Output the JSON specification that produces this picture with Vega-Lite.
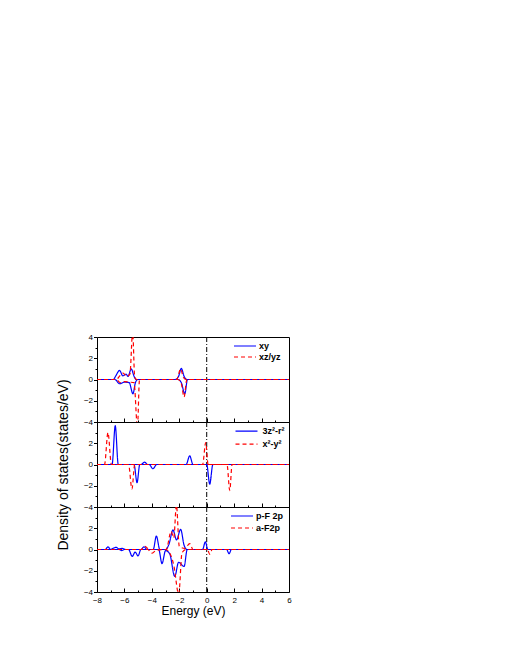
{
  "$schema": "https://vega.github.io/schema/vega-lite/v6.json",
  "padding": {"left": 55, "top": 332, "right": 5, "bottom": 5},
  "bounds": "flush",
  "spacing": 0,
  "config": {
    "font": "Liberation Sans",
    "view": {"stroke": "black", "strokeWidth": 1},
    "axis": {
      "domain": false, "grid": false, "tickColor": "black", "tickWidth": 1,
      "labelColor": "black", "labelFontSize": 8, "labelFont": "Liberation Sans",
      "titleFont": "Liberation Sans", "titleFontSize": 13, "titleFontWeight": "normal", "titleColor": "black",
      "labelFlush": false, "labelOverlap": false, "labelBound": false
    },
    "axisX": {"labelPadding": 8, "titlePadding": -1, "titleFontSize": 12},
    "axisY": {"labelPadding": 1, "titlePadding": 13, "titleFontSize": 14},
    "legend": {
      "orient": "none", "padding": 0, "labelFontSize": 9, "labelFontWeight": "bold",
      "labelFont": "Liberation Sans", "labelColor": "black",
      "symbolStrokeWidth": 1.2, "rowPadding": 0
    }
  },
  "datasets": {
    "d": [
      {"p":1,"s":"xy","d":"u","x":-8,"y":0},{"p":1,"s":"xy","d":"u","x":-6.8,"y":0},{"p":1,"s":"xy","d":"u","x":-6.65,"y":0.3},{"p":1,"s":"xy","d":"u","x":-6.35,"y":0.85},{"p":1,"s":"xy","d":"u","x":-6.12,"y":0.35},{"p":1,"s":"xy","d":"u","x":-5.88,"y":0.5},{"p":1,"s":"xy","d":"u","x":-5.74,"y":0.3},{"p":1,"s":"xy","d":"u","x":-5.5,"y":1.0},{"p":1,"s":"xy","d":"u","x":-5.3,"y":0.3},{"p":1,"s":"xy","d":"u","x":-5.14,"y":0},{"p":1,"s":"xy","d":"u","x":-2.3,"y":0},{"p":1,"s":"xy","d":"u","x":-2.05,"y":0.3},{"p":1,"s":"xy","d":"u","x":-1.85,"y":1.05},{"p":1,"s":"xy","d":"u","x":-1.65,"y":0.3},{"p":1,"s":"xy","d":"u","x":-1.45,"y":0},{"p":1,"s":"xy","d":"u","x":6,"y":0},
      {"p":1,"s":"xy","d":"d","x":-8,"y":0},{"p":1,"s":"xy","d":"d","x":-6.7,"y":0},{"p":1,"s":"xy","d":"d","x":-6.35,"y":-0.4},{"p":1,"s":"xy","d":"d","x":-6.0,"y":-0.25},{"p":1,"s":"xy","d":"d","x":-5.65,"y":-0.3},{"p":1,"s":"xy","d":"d","x":-5.38,"y":-1.35},{"p":1,"s":"xy","d":"d","x":-5.2,"y":-0.3},{"p":1,"s":"xy","d":"d","x":-5.03,"y":0},{"p":1,"s":"xy","d":"d","x":-2.1,"y":0},{"p":1,"s":"xy","d":"d","x":-1.85,"y":-0.3},{"p":1,"s":"xy","d":"d","x":-1.6,"y":-1.35},{"p":1,"s":"xy","d":"d","x":-1.4,"y":0},{"p":1,"s":"xy","d":"d","x":6,"y":0},
      {"p":1,"s":"xz/yz","d":"u","x":-8,"y":0},{"p":1,"s":"xz/yz","d":"u","x":-6.6,"y":0},{"p":1,"s":"xz/yz","d":"u","x":-6.3,"y":0.4},{"p":1,"s":"xz/yz","d":"u","x":-6.1,"y":0.6},{"p":1,"s":"xz/yz","d":"u","x":-5.85,"y":0.3},{"p":1,"s":"xz/yz","d":"u","x":-5.6,"y":0.5},{"p":1,"s":"xz/yz","d":"u","x":-5.4,"y":4.5},{"p":1,"s":"xz/yz","d":"u","x":-5.25,"y":0.2},{"p":1,"s":"xz/yz","d":"u","x":-5.1,"y":0},{"p":1,"s":"xz/yz","d":"u","x":-2.2,"y":0},{"p":1,"s":"xz/yz","d":"u","x":-1.9,"y":1.0},{"p":1,"s":"xz/yz","d":"u","x":-1.7,"y":0.2},{"p":1,"s":"xz/yz","d":"u","x":-1.5,"y":0},{"p":1,"s":"xz/yz","d":"u","x":6,"y":0},
      {"p":1,"s":"xz/yz","d":"d","x":-8,"y":0},{"p":1,"s":"xz/yz","d":"d","x":-6.6,"y":0},{"p":1,"s":"xz/yz","d":"d","x":-6.3,"y":-0.3},{"p":1,"s":"xz/yz","d":"d","x":-6.0,"y":-0.2},{"p":1,"s":"xz/yz","d":"d","x":-5.6,"y":-0.25},{"p":1,"s":"xz/yz","d":"d","x":-5.3,"y":-0.3},{"p":1,"s":"xz/yz","d":"d","x":-5.05,"y":-4.5},{"p":1,"s":"xz/yz","d":"d","x":-4.9,"y":0},{"p":1,"s":"xz/yz","d":"d","x":-2.1,"y":0},{"p":1,"s":"xz/yz","d":"d","x":-1.85,"y":-0.4},{"p":1,"s":"xz/yz","d":"d","x":-1.65,"y":-1.65},{"p":1,"s":"xz/yz","d":"d","x":-1.45,"y":0},{"p":1,"s":"xz/yz","d":"d","x":6,"y":0},

      {"p":2,"s":"3z²-r²","d":"u","x":-8,"y":0},{"p":2,"s":"3z²-r²","d":"u","x":-6.9,"y":0},{"p":2,"s":"3z²-r²","d":"u","x":-6.67,"y":3.65},{"p":2,"s":"3z²-r²","d":"u","x":-6.45,"y":0},{"p":2,"s":"3z²-r²","d":"u","x":-4.8,"y":0},{"p":2,"s":"3z²-r²","d":"u","x":-4.53,"y":0.22},{"p":2,"s":"3z²-r²","d":"u","x":-4.3,"y":0},{"p":2,"s":"3z²-r²","d":"u","x":-1.5,"y":0},{"p":2,"s":"3z²-r²","d":"u","x":-1.24,"y":0.82},{"p":2,"s":"3z²-r²","d":"u","x":-1.0,"y":0},{"p":2,"s":"3z²-r²","d":"u","x":6,"y":0},
      {"p":2,"s":"3z²-r²","d":"d","x":-8,"y":0},{"p":2,"s":"3z²-r²","d":"d","x":-5.3,"y":0},{"p":2,"s":"3z²-r²","d":"d","x":-5.08,"y":-1.7},{"p":2,"s":"3z²-r²","d":"d","x":-4.88,"y":0},{"p":2,"s":"3z²-r²","d":"d","x":-4.2,"y":0},{"p":2,"s":"3z²-r²","d":"d","x":-3.92,"y":-0.4},{"p":2,"s":"3z²-r²","d":"d","x":-3.65,"y":0},{"p":2,"s":"3z²-r²","d":"d","x":0.0,"y":0},{"p":2,"s":"3z²-r²","d":"d","x":0.22,"y":-1.85},{"p":2,"s":"3z²-r²","d":"d","x":0.45,"y":0},{"p":2,"s":"3z²-r²","d":"d","x":6,"y":0},
      {"p":2,"s":"x²-y²","d":"u","x":-8,"y":0},{"p":2,"s":"x²-y²","d":"u","x":-7.45,"y":0},{"p":2,"s":"x²-y²","d":"u","x":-7.2,"y":3.0},{"p":2,"s":"x²-y²","d":"u","x":-6.95,"y":0},{"p":2,"s":"x²-y²","d":"u","x":-0.3,"y":0},{"p":2,"s":"x²-y²","d":"u","x":-0.07,"y":2.07},{"p":2,"s":"x²-y²","d":"u","x":0.1,"y":0},{"p":2,"s":"x²-y²","d":"u","x":6,"y":0},
      {"p":2,"s":"x²-y²","d":"d","x":-8,"y":0},{"p":2,"s":"x²-y²","d":"d","x":-5.7,"y":0},{"p":2,"s":"x²-y²","d":"d","x":-5.45,"y":-2.3},{"p":2,"s":"x²-y²","d":"d","x":-5.25,"y":0},{"p":2,"s":"x²-y²","d":"d","x":1.48,"y":0},{"p":2,"s":"x²-y²","d":"d","x":1.68,"y":-2.45},{"p":2,"s":"x²-y²","d":"d","x":1.85,"y":0},{"p":2,"s":"x²-y²","d":"d","x":6,"y":0},

      {"p":3,"s":"p-F 2p","d":"u","x":-8,"y":0},{"p":3,"s":"p-F 2p","d":"u","x":-7.4,"y":0},{"p":3,"s":"p-F 2p","d":"u","x":-7.2,"y":0.25},{"p":3,"s":"p-F 2p","d":"u","x":-7.0,"y":0},{"p":3,"s":"p-F 2p","d":"u","x":-6.85,"y":0.1},{"p":3,"s":"p-F 2p","d":"u","x":-6.6,"y":0.2},{"p":3,"s":"p-F 2p","d":"u","x":-6.4,"y":0.05},{"p":3,"s":"p-F 2p","d":"u","x":-6.15,"y":0.1},{"p":3,"s":"p-F 2p","d":"u","x":-5.9,"y":0},{"p":3,"s":"p-F 2p","d":"u","x":-4.8,"y":0},{"p":3,"s":"p-F 2p","d":"u","x":-4.57,"y":0.25},{"p":3,"s":"p-F 2p","d":"u","x":-4.35,"y":0},{"p":3,"s":"p-F 2p","d":"u","x":-3.9,"y":0},{"p":3,"s":"p-F 2p","d":"u","x":-3.67,"y":1.27},{"p":3,"s":"p-F 2p","d":"u","x":-3.42,"y":0},{"p":3,"s":"p-F 2p","d":"u","x":-3.0,"y":0},{"p":3,"s":"p-F 2p","d":"u","x":-2.75,"y":0.5},{"p":3,"s":"p-F 2p","d":"u","x":-2.46,"y":1.84},{"p":3,"s":"p-F 2p","d":"u","x":-2.2,"y":0.9},{"p":3,"s":"p-F 2p","d":"u","x":-1.9,"y":1.9},{"p":3,"s":"p-F 2p","d":"u","x":-1.65,"y":0.4},{"p":3,"s":"p-F 2p","d":"u","x":-1.45,"y":0},{"p":3,"s":"p-F 2p","d":"u","x":-0.3,"y":0},{"p":3,"s":"p-F 2p","d":"u","x":-0.1,"y":0.73},{"p":3,"s":"p-F 2p","d":"u","x":0.08,"y":0},{"p":3,"s":"p-F 2p","d":"u","x":6,"y":0},
      {"p":3,"s":"p-F 2p","d":"d","x":-8,"y":0},{"p":3,"s":"p-F 2p","d":"d","x":-6.4,"y":0},{"p":3,"s":"p-F 2p","d":"d","x":-6.2,"y":-0.1},{"p":3,"s":"p-F 2p","d":"d","x":-6.0,"y":0},{"p":3,"s":"p-F 2p","d":"d","x":-5.7,"y":0},{"p":3,"s":"p-F 2p","d":"d","x":-5.43,"y":-0.65},{"p":3,"s":"p-F 2p","d":"d","x":-5.22,"y":-0.25},{"p":3,"s":"p-F 2p","d":"d","x":-5.0,"y":-0.6},{"p":3,"s":"p-F 2p","d":"d","x":-4.8,"y":0},{"p":3,"s":"p-F 2p","d":"d","x":-3.5,"y":0},{"p":3,"s":"p-F 2p","d":"d","x":-3.26,"y":-1.33},{"p":3,"s":"p-F 2p","d":"d","x":-3.0,"y":-0.1},{"p":3,"s":"p-F 2p","d":"d","x":-2.7,"y":-0.4},{"p":3,"s":"p-F 2p","d":"d","x":-2.33,"y":-2.54},{"p":3,"s":"p-F 2p","d":"d","x":-2.05,"y":-1.2},{"p":3,"s":"p-F 2p","d":"d","x":-1.65,"y":-1.6},{"p":3,"s":"p-F 2p","d":"d","x":-1.42,"y":0},{"p":3,"s":"p-F 2p","d":"d","x":1.45,"y":0},{"p":3,"s":"p-F 2p","d":"d","x":1.63,"y":-0.4},{"p":3,"s":"p-F 2p","d":"d","x":1.8,"y":0},{"p":3,"s":"p-F 2p","d":"d","x":6,"y":0},
      {"p":3,"s":"a-F2p","d":"u","x":-8,"y":0},{"p":3,"s":"a-F2p","d":"u","x":-4.8,"y":0},{"p":3,"s":"a-F2p","d":"u","x":-4.5,"y":0.3},{"p":3,"s":"a-F2p","d":"u","x":-4.2,"y":0},{"p":3,"s":"a-F2p","d":"u","x":-2.95,"y":0},{"p":3,"s":"a-F2p","d":"u","x":-2.6,"y":1.7},{"p":3,"s":"a-F2p","d":"u","x":-2.4,"y":1.1},{"p":3,"s":"a-F2p","d":"u","x":-2.21,"y":4.2},{"p":3,"s":"a-F2p","d":"u","x":-2.0,"y":0.3},{"p":3,"s":"a-F2p","d":"u","x":-1.6,"y":0.1},{"p":3,"s":"a-F2p","d":"u","x":-1.24,"y":0.55},{"p":3,"s":"a-F2p","d":"u","x":-1.0,"y":0},{"p":3,"s":"a-F2p","d":"u","x":6,"y":0},
      {"p":3,"s":"a-F2p","d":"d","x":-8,"y":0},{"p":3,"s":"a-F2p","d":"d","x":-4.3,"y":0},{"p":3,"s":"a-F2p","d":"d","x":-4.0,"y":-0.35},{"p":3,"s":"a-F2p","d":"d","x":-3.7,"y":-0.1},{"p":3,"s":"a-F2p","d":"d","x":-3.0,"y":0},{"p":3,"s":"a-F2p","d":"d","x":-2.6,"y":-0.6},{"p":3,"s":"a-F2p","d":"d","x":-2.4,"y":-1.5},{"p":3,"s":"a-F2p","d":"d","x":-2.04,"y":-4.2},{"p":3,"s":"a-F2p","d":"d","x":-1.8,"y":-0.3},{"p":3,"s":"a-F2p","d":"d","x":-1.5,"y":0},{"p":3,"s":"a-F2p","d":"d","x":0.05,"y":0},{"p":3,"s":"a-F2p","d":"d","x":0.22,"y":-0.45},{"p":3,"s":"a-F2p","d":"d","x":0.4,"y":0},{"p":3,"s":"a-F2p","d":"d","x":6,"y":0}
    ]
  },
  "resolve": {
    "scale": {"color": "independent", "strokeDash": "independent"},
    "legend": {"color": "independent", "strokeDash": "independent"}
  },
  "vconcat": [
    {
      "width": 192, "height": 85,
      "layer": [
        {"data": {"values": [{"x": 0}]}, "mark": {"type": "rule", "color": "black", "strokeDash": [5, 2, 1, 2], "strokeWidth": 1},
         "encoding": {"x": {"field": "x", "type": "quantitative", "scale": {"domain": [-8, 6], "nice": false}, "axis": {"values": [-8,-7,-6,-5,-4,-3,-2,-1,0,1,2,3,4,5,6], "labels": false, "title": null, "tickSize": {"condition": {"test": "datum.value % 2 !== 0", "value": -2}, "value": -4}}}}},
        {"data": {"name": "d"}, "transform": [{"filter": "datum.p == 1"}],
         "mark": {"type": "line", "interpolate": "monotone", "strokeWidth": 1.2, "clip": true},
         "encoding": {
           "x": {"field": "x", "type": "quantitative", "scale": {"domain": [-8, 6], "nice": false}, "axis": {"values": [-8,-7,-6,-5,-4,-3,-2,-1,0,1,2,3,4,5,6], "labels": false, "title": null, "tickSize": {"condition": {"test": "datum.value % 2 !== 0", "value": -2}, "value": -4}}},
           "y": {"field": "y", "type": "quantitative", "scale": {"domain": [-4, 4], "nice": false}, "axis": {"values": [-4,-3,-2,-1,0,1,2,3,4], "title": null, "labelExpr": "datum.value % 2 === 0 ? datum.label : ''", "tickSize": {"condition": {"test": "datum.value % 2 !== 0", "value": 2}, "value": 3.5}}},
           "color": {"field": "s", "type": "nominal", "scale": {"domain": ["xy", "xz/yz"], "range": ["#0000ff", "#ff0000"]}, "legend": {"title": null, "legendX": 142, "legendY": 3, "symbolSize": 100, "symbolType": "M-2.2,0L2.2,0", "labelOffset": 8}},
           "strokeDash": {"field": "s", "type": "nominal", "scale": {"domain": ["xy", "xz/yz"], "range": [[1, 0], [4, 3]]}, "legend": {"title": null, "legendX": 142, "legendY": 3, "symbolSize": 100, "symbolType": "M-2.2,0L2.2,0", "labelOffset": 8}},
           "detail": {"field": "d"}
         }}
      ]
    },
    {
      "width": 192, "height": 85,
      "layer": [
        {"data": {"values": [{"x": 0}]}, "mark": {"type": "rule", "color": "black", "strokeDash": [5, 2, 1, 2], "strokeWidth": 1},
         "encoding": {"x": {"field": "x", "type": "quantitative", "scale": {"domain": [-8, 6], "nice": false}, "axis": {"values": [-8,-7,-6,-5,-4,-3,-2,-1,0,1,2,3,4,5,6], "labels": false, "title": null, "tickSize": {"condition": {"test": "datum.value % 2 !== 0", "value": -2}, "value": -4}}}}},
        {"data": {"name": "d"}, "transform": [{"filter": "datum.p == 2"}],
         "mark": {"type": "line", "interpolate": "monotone", "strokeWidth": 1.2, "clip": true},
         "encoding": {
           "x": {"field": "x", "type": "quantitative", "scale": {"domain": [-8, 6], "nice": false}, "axis": {"values": [-8,-7,-6,-5,-4,-3,-2,-1,0,1,2,3,4,5,6], "labels": false, "title": null, "tickSize": {"condition": {"test": "datum.value % 2 !== 0", "value": -2}, "value": -4}}},
           "y": {"field": "y", "type": "quantitative", "scale": {"domain": [-4, 4], "nice": false}, "axis": {"values": [-4,-3,-2,-1,0,1,2,3,4], "title": "Density of states(states/eV)", "labelExpr": "datum.value % 2 === 0 && datum.value < 4 ? datum.label : ''", "tickSize": {"condition": {"test": "datum.value % 2 !== 0", "value": 2}, "value": 3.5}}},
           "color": {"field": "s", "type": "nominal", "scale": {"domain": ["3z²-r²", "x²-y²"], "range": ["#0000ff", "#ff0000"]}, "legend": {"title": null, "legendX": 141.5, "legendY": 1.2, "symbolSize": 196, "symbolType": "M-1.57,0L1.57,0", "labelOffset": 8}},
           "strokeDash": {"field": "s", "type": "nominal", "scale": {"domain": ["3z²-r²", "x²-y²"], "range": [[1, 0], [4, 3]]}, "legend": {"title": null, "legendX": 141.5, "legendY": 1.2, "symbolSize": 196, "symbolType": "M-1.57,0L1.57,0", "labelOffset": 8}},
           "detail": {"field": "d"}
         }}
      ]
    },
    {
      "width": 192, "height": 85,
      "layer": [
        {"data": {"values": [{"x": 0}]}, "mark": {"type": "rule", "color": "black", "strokeDash": [5, 2, 1, 2], "strokeWidth": 1},
         "encoding": {"x": {"field": "x", "type": "quantitative", "scale": {"domain": [-8, 6], "nice": false}, "axis": {"values": [-8,-7,-6,-5,-4,-3,-2,-1,0,1,2,3,4,5,6], "title": "Energy (eV)", "labelExpr": "datum.value % 2 === 0 ? datum.label : ''", "tickSize": {"condition": {"test": "datum.value % 2 !== 0", "value": -2}, "value": -4}}}}},
        {"data": {"name": "d"}, "transform": [{"filter": "datum.p == 3"}],
         "mark": {"type": "line", "interpolate": "monotone", "strokeWidth": 1.2, "clip": true},
         "encoding": {
           "x": {"field": "x", "type": "quantitative", "scale": {"domain": [-8, 6], "nice": false}, "axis": {"values": [-8,-7,-6,-5,-4,-3,-2,-1,0,1,2,3,4,5,6], "title": "Energy (eV)", "labelExpr": "datum.value % 2 === 0 ? datum.label : ''", "tickSize": {"condition": {"test": "datum.value % 2 !== 0", "value": -2}, "value": -4}}},
           "y": {"field": "y", "type": "quantitative", "scale": {"domain": [-4, 4], "nice": false}, "axis": {"values": [-4,-3,-2,-1,0,1,2,3,4], "title": null, "labelExpr": "datum.value % 2 === 0 && datum.value < 4 ? datum.label : ''", "tickSize": {"condition": {"test": "datum.value % 2 !== 0", "value": 2}, "value": 3.5}}},
           "color": {"field": "s", "type": "nominal", "scale": {"domain": ["p-F 2p", "a-F2p"], "range": ["#0000ff", "#ff0000"]}, "legend": {"title": null, "legendX": 138, "legendY": 2, "symbolSize": 144, "symbolType": "M-1.83,0L1.83,0", "labelOffset": 7}},
           "strokeDash": {"field": "s", "type": "nominal", "scale": {"domain": ["p-F 2p", "a-F2p"], "range": [[1, 0], [4, 3]]}, "legend": {"title": null, "legendX": 138, "legendY": 2, "symbolSize": 144, "symbolType": "M-1.83,0L1.83,0", "labelOffset": 7}},
           "detail": {"field": "d"}
         }}
      ]
    }
  ]
}
